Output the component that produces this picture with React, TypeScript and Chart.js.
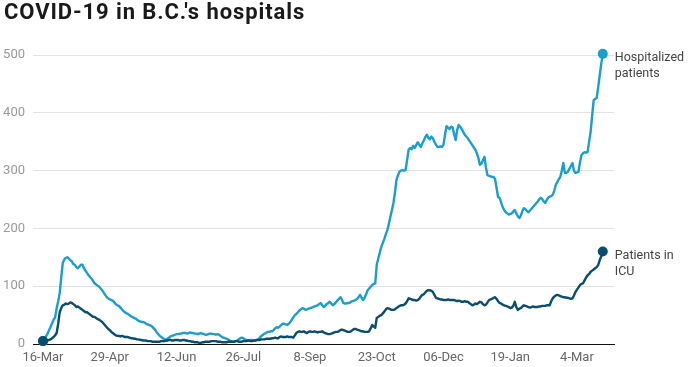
import React, { useEffect, useRef } from "react";
import { Chart, registerables } from "chart.js";
Chart.register(...registerables);

const TITLE = "COVID-19 in B.C.'s hospitals";
const TICK_LABELS = ["16-Mar", "29-Apr", "12-Jun", "26-Jul", "8-Sep", "23-Oct", "06-Dec", "19-Jan", "4-Mar"];
const TICK_STEP = 44;
const Y_TICKS = [0, 100, 200, 300, 400, 500];

const HOSPITALIZED = [
  5, 9, 13, 18, 24, 30, 36, 42, 46, 62,
  74, 88, 115, 140, 146, 149, 150, 148, 145, 143,
  138, 137, 133, 131, 134, 137, 137, 131, 127, 123,
  119, 116, 113, 109, 105, 103, 101, 99, 96, 93,
  89, 85, 81, 79, 77, 76, 75, 72, 69, 67,
  66, 63, 60, 57, 55, 53, 52, 50, 48, 47,
  45, 44, 42, 40, 39, 38, 38, 37, 35, 34,
  33, 32, 30, 27, 24, 20, 17, 14, 12, 10,
  8, 8, 9, 11, 13, 14, 15, 16, 17, 17,
  18, 18, 19, 19, 19, 18, 19, 20, 19, 19,
  18, 18, 17, 18, 19, 18, 17, 16, 16, 17,
  18, 18, 17, 17, 16, 17, 16, 14, 12, 11,
  10, 9, 8, 6, 5, 4, 4, 5, 6, 8,
  10, 11, 10, 8, 7, 6, 6, 7, 7, 6,
  6, 7, 8, 11, 14, 16, 18, 19, 21, 21,
  22, 22, 24, 27, 29, 28, 30, 33, 35, 35,
  34, 33, 35, 38, 42, 46, 50, 52, 55, 58,
  60, 62, 61, 59, 60, 61, 62, 63, 64, 65,
  66, 67, 69, 71, 67, 64, 66, 69, 71, 73,
  70, 67, 69, 72, 75, 78, 81, 77, 71, 70,
  70, 71, 71, 73, 74, 75, 76, 78, 81, 85,
  80, 76, 80, 86, 93, 96, 99, 102, 104, 105,
  137, 148, 158, 168, 175, 182, 190, 197, 208, 220,
  232, 244, 262, 284, 292, 298, 300, 301, 300, 301,
  318, 336, 339, 337, 343, 339, 344, 349, 345, 341,
  347, 352, 358, 362, 357, 354, 359, 356, 350, 345,
  341, 341, 342, 341, 345, 362, 377, 374, 372, 376,
  375, 363, 353, 370, 379, 376, 372, 367, 362, 359,
  356, 352, 348, 344, 340, 336, 330, 322, 310, 312,
  318, 324, 305, 292, 291, 290, 289, 289, 285, 270,
  254, 253, 245, 237, 232, 228, 226, 224, 225, 226,
  229, 232, 226, 221, 218, 222, 230, 235, 233, 230,
  228, 231, 234, 237, 240, 243, 246, 250, 253, 251,
  247, 244, 249, 253, 255, 256, 258, 265, 275, 280,
  285, 289, 300, 313, 296, 296, 298, 303, 308, 313,
  300, 296, 297, 298, 315, 327, 330, 332, 331, 332,
  350, 367, 395, 422, 424, 426, 445, 465, 485, 502,
];

const ICU = [
  5, 5, 6, 6, 7, 8, 10, 12, 15, 19,
  35, 55, 62, 67, 68, 70, 69, 70, 72, 71,
  69, 67, 64, 65, 63, 61, 59, 57, 55, 55,
  53, 51, 49, 47, 47, 45, 43, 42, 40, 38,
  35, 32, 29, 26, 24, 21, 19, 17, 15, 14,
  14, 13, 14, 13, 12, 12, 12, 11, 10, 10,
  9, 9, 8, 8, 7, 7, 6, 6, 6, 5,
  5, 5, 4, 4, 4, 4, 4, 4, 5, 5,
  5, 6, 6, 7, 7, 6, 6, 7, 7, 7,
  6, 6, 7, 7, 6, 6, 5, 5, 4, 4,
  3, 3, 3, 2, 2, 3, 3, 4, 4, 4,
  4, 5, 5, 5, 5, 4, 4, 4, 3, 3,
  3, 3, 4, 4, 4, 4, 4, 5, 5, 4,
  4, 4, 5, 5, 5, 6, 6, 5, 5, 6,
  6, 7, 7, 7, 8, 8, 8, 9, 9, 9,
  9, 10, 10, 11, 10, 10, 12, 13, 12, 12,
  12, 13, 12, 12, 12, 11, 15, 19, 21, 22,
  21, 21, 22, 20, 19, 21, 22, 21, 21, 22,
  21, 20, 21, 21, 22, 20, 19, 18, 17, 17,
  18, 19, 20, 21, 21, 22, 24, 25, 24, 23,
  22, 21, 21, 22, 24, 26, 26, 25, 24, 23,
  22, 22, 21, 21, 21, 22, 27, 33, 30, 28,
  45, 47, 49, 50, 53, 56, 60, 62, 61, 60,
  59, 59, 60, 62, 64, 66, 67, 67, 68, 70,
  74, 79, 78, 77, 76, 76, 75, 76, 78, 82,
  85, 86, 89, 92, 93, 93, 92, 90, 85, 80,
  79, 78, 77, 77, 76, 76, 76, 77, 76, 76,
  76, 76, 75, 74, 75, 74, 73, 73, 74, 73,
  73, 71, 69, 67, 68, 70, 69, 71, 73, 72,
  69, 67, 68, 72, 76, 77, 78, 80, 81, 78,
  74, 71, 70, 68, 67, 66, 65, 64, 62, 63,
  66, 73, 64, 59, 61, 62, 65, 67, 66, 65,
  64, 63, 64, 65, 64, 64, 64, 65, 65, 66,
  66, 66, 67, 67, 67, 74, 79, 82, 84, 85,
  84, 83, 82, 81, 81, 80, 80, 79, 78, 79,
  84, 90, 94, 98, 102, 104, 105, 110, 115, 119,
  121, 125, 127, 129, 131, 133, 137, 145, 152, 160,
];

const SERIES_LABELS = [
  ["Patients in", "ICU"],
  ["Hospitalized", "patients"],
];
const COLORS = ["#0b4d6d", "#1c9ecd"];

const FONT = "Roboto, 'Open Sans', sans-serif";

const overlayPlugin = {
  id: "overlay",
  afterDatasetsDraw(chart: any) {
    const ctx = chart.ctx;
    ctx.save();
    // title
    ctx.fillStyle = "#1a1a1a";
    ctx.font = `bold 22px ${FONT}`;
    try { (ctx as any).letterSpacing = "0.9px"; } catch (e) {}
    ctx.textAlign = "left";
    ctx.textBaseline = "alphabetic";
    ctx.fillText(TITLE, 4, 18.5);
    try { (ctx as any).letterSpacing = "0px"; } catch (e) {}
    // end labels
    ctx.font = `12.5px ${FONT}`;
    ctx.fillStyle = "#444";
    ctx.textBaseline = "middle";
    chart.data.datasets.forEach((ds: any, di: number) => {
      const meta = chart.getDatasetMeta(di);
      const last = meta.data[meta.data.length - 1];
      const lines = SERIES_LABELS[di];
      lines.forEach((t: string, li: number) => {
        ctx.fillText(t, last.x + 12, last.y + 4 + li * 16);
      });
    });
    ctx.restore();
  },
};

export default function App() {
  const ref = useRef<HTMLCanvasElement | null>(null);
  useEffect(() => {
    if (!ref.current) return;
    const series = [ICU, HOSPITALIZED];
    const chart = new Chart(ref.current, {
      type: "line",
      data: {
        datasets: series.map((arr, di) => ({
          label: SERIES_LABELS[di].join(" "),
          data: arr.map((v, i) => ({ x: i, y: v })),
          borderColor: COLORS[di],
          backgroundColor: COLORS[di],
          borderWidth: 2.4,
          borderJoinStyle: "round",
          tension: 0,
          fill: false,
          clip: false as any,
          pointRadius: (c: any) =>
            c.dataIndex === 0 || c.dataIndex === arr.length - 1 ? 5 : 0,
          pointHoverRadius: 0,
          pointBorderWidth: 0,
        })),
      },
      plugins: [overlayPlugin],
      options: {
        responsive: false,
        animation: false,
        devicePixelRatio: 1,
        layout: { padding: { top: 55, right: 78, left: 0, bottom: 0 } },
        plugins: {
          legend: { display: false },
          tooltip: { enabled: false },
          title: { display: false },
        },
        scales: {
          x: {
            type: "linear",
            min: -6.6,
            max: 376.4,
            afterBuildTicks: (scale: any) => {
              scale.ticks = TICK_LABELS.map((_, k) => ({ value: k * TICK_STEP }));
            },
            afterFit: (scale: any) => {
              scale.height = 23;
            },
            grid: { display: false, drawTicks: false },
            border: { display: true, color: "#111", width: 1 },
            ticks: {
              autoSkip: false,
              maxRotation: 0,
              padding: 6,
              color: "#666",
              font: { family: FONT, size: 13 },
              callback: (v: any) => TICK_LABELS[Math.round(Number(v) / TICK_STEP)] ?? "",
            },
          },
          y: {
            min: 0,
            max: 500,
            afterBuildTicks: (scale: any) => {
              scale.ticks = Y_TICKS.map((v) => ({ value: v }));
            },
            afterFit: (scale: any) => {
              scale.width = 33;
            },
            grid: {
              color: "#e3e3e3",
              lineWidth: 1,
              drawTicks: false,
            },
            border: { display: false },
            ticks: {
              padding: 8,
              color: "#9a9a9a",
              font: { family: FONT, size: 13 },
            },
          },
        },
      } as any,
    });
    return () => chart.destroy();
  }, []);
  return (
    <div style={{ position: "absolute", left: 0, top: 0, width: 692, height: 367, background: "#fff" }}>
      <canvas ref={ref} width={692} height={367} style={{ width: 692, height: 367, display: "block" }} />
    </div>
  );
}
